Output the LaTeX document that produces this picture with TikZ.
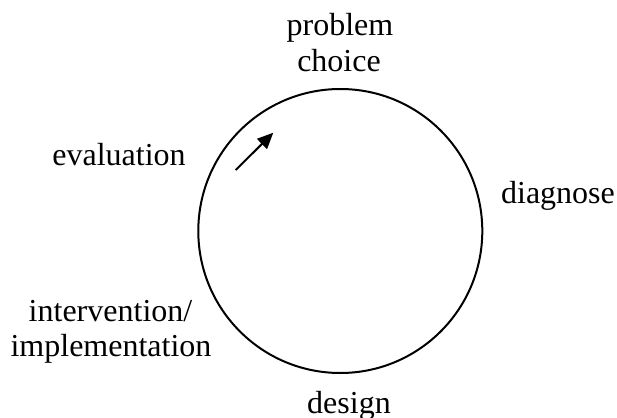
\documentclass[tikz,border=0pt]{standalone}
\usepackage{fontspec}
\setmainfont{Liberation Serif}
\usetikzlibrary{arrows.meta}

\begin{document}
\begin{tikzpicture}[x=0.5pt, y=-0.5pt,
  phase/.style={anchor=base, align=center, inner sep=0pt, font=\fontsize{16}{18}\selectfont},
  ring/.style={draw, line width=1pt},
  flow/.style={-{Triangle[length=8pt, width=7pt]}, line width=1pt}
]
\useasboundingbox (0,0) rectangle (617,418);

% Cycle
\coordinate (C) at (340.3,231);
\draw[ring] (C) circle[radius=71pt];

% Phase labels
\node[phase] (problem) at (340,35) {problem};
\node[phase] (choice) at (339,71) {choice};
\node[phase] (diagnose) at (558,203) {diagnose};
\node[phase] (design) at (349,413) {design};
\node[phase] (intervention) at (110.5,321.7) {intervention/};
\node[phase] (implementation) at (111,356.7) {implementation};
\node[phase] (evaluation) at (119,165) {evaluation};

% Direction arrow
\coordinate (A1) at (235.7,170);
\coordinate (A2) at (273.3,132.7);
\draw[flow] (A1) -- (A2);
\end{tikzpicture}
\end{document}
